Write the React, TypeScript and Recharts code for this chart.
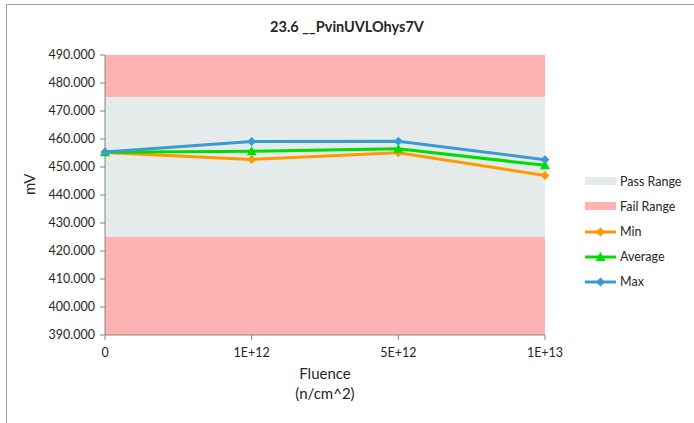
import {
  ComposedChart,
  Line,
  XAxis,
  YAxis,
  ReferenceArea,
} from "recharts";

// Categorías del eje X (fluencia) y series
const FLUENCIAS = ["0", "1E+12", "5E+12", "1E+13"];
const MIN = [455.2, 452.7, 455.1, 447.0];
const PROMEDIO = [455.3, 455.6, 456.5, 450.6];
const MAX = [455.4, 459.1, 459.2, 452.6];

const Y_TICKS = [390, 400, 410, 420, 430, 440, 450, 460, 470, 480, 490];
const PASS_RANGE: [number, number] = [425, 475];
const FAIL_BANDS: Array<[number, number]> = [
  [475, 490],
  [390, 425],
];

const PASS_FILL = "#e5ebeb";
const FAIL_FILL = "#feb2b2";
const AXIS = "#868686";
const TEXT = "#262626";
const FONT = "Lato, 'Open Sans', sans-serif";

const SERIES = [
  { key: "min", label: "Min", color: "#ff9900", values: MIN, shape: "diamond" },
  { key: "avg", label: "Average", color: "#00dd00", values: PROMEDIO, shape: "triangle" },
  { key: "max", label: "Max", color: "#3a9ad2", values: MAX, shape: "diamond" },
] as const;

const datos = FLUENCIAS.map((f, i) => ({
  fluencia: f,
  min: MIN[i],
  avg: PROMEDIO[i],
  max: MAX[i],
}));

function Marcador(props: any) {
  const { cx, cy, fill, shape } = props;
  if (cx == null || cy == null) return null;
  if (shape === "triangle") {
    return (
      <polygon
        points={`${cx},${cy - 5} ${cx + 5},${cy + 4} ${cx - 5},${cy + 4}`}
        fill={fill}
      />
    );
  }
  return (
    <polygon
      points={`${cx},${cy - 4.5} ${cx + 4.5},${cy} ${cx},${cy + 4.5} ${cx - 4.5},${cy}`}
      fill={fill}
    />
  );
}

function Leyenda() {
  const filas = [
    { label: "Pass Range", kind: "box", color: PASS_FILL },
    { label: "Fail Range", kind: "box", color: FAIL_FILL },
    ...SERIES.map((s) => ({ label: s.label, kind: s.shape, color: s.color })),
  ];
  return (
    <div
      style={{
        position: "absolute",
        left: 584,
        top: 169,
        fontFamily: FONT,
        fontSize: 12.5,
        color: TEXT,
      }}
    >
      {filas.map((f) => (
        <div
          key={f.label}
          style={{ display: "flex", alignItems: "center", height: 25 }}
        >
          <svg width={34} height={12} style={{ marginRight: 2 }}>
            {f.kind === "box" ? (
              <rect x={1} y={1} width={31} height={8} fill={f.color} />
            ) : (
              <>
                <line x1={1} x2={32} y1={6} y2={6} stroke={f.color} strokeWidth={3} />
                <Marcador cx={16.5} cy={6} fill={f.color} shape={f.kind} />
              </>
            )}
          </svg>
          <span>{f.label}</span>
        </div>
      ))}
    </div>
  );
}

function EtiquetaX(props: any) {
  const { viewBox } = props;
  const cx = viewBox.x + viewBox.width / 2;
  return (
    <text
      x={cx}
      y={viewBox.y + 44}
      textAnchor="middle"
      fill={TEXT}
      fontFamily={FONT}
      fontSize={15}
    >
      <tspan x={cx}>Fluence</tspan>
      <tspan x={cx} dy={20}>
        (n/cm^2)
      </tspan>
    </text>
  );
}

export default function App() {
  return (
    <div
      style={{
        position: "absolute",
        left: 0,
        top: 0,
        width: 694,
        height: 423,
        background: "#fff",
        overflow: "hidden",
      }}
    >
      <div
        style={{
          position: "absolute",
          left: 6,
          top: 4,
          width: 700,
          height: 430,
          borderTop: "1.5px solid #a0a0a0",
          borderLeft: "1.5px solid #a0a0a0",
        }}
      />
      <div
        style={{
          position: "absolute",
          left: 0,
          top: 18,
          width: 694,
          textAlign: "center",
          fontFamily: FONT,
          fontSize: 14.5,
          fontWeight: "bold",
          color: TEXT,
        }}
      >
        23.6 __PvinUVLOhys7V
      </div>
      <ComposedChart
        width={694}
        height={423}
        data={datos}
        margin={{ top: 55, right: 149, bottom: 0, left: 0 }}
        style={{ position: "absolute", left: 0, top: 0 }}
      >
        <ReferenceArea
          y1={PASS_RANGE[0]}
          y2={PASS_RANGE[1]}
          fill={PASS_FILL}
          fillOpacity={1}
          stroke="none"
        />
        {FAIL_BANDS.map(([a, b]) => (
          <ReferenceArea
            key={a}
            y1={a}
            y2={b}
            fill={FAIL_FILL}
            fillOpacity={1}
            stroke="none"
          />
        ))}
        <XAxis
          dataKey="fluencia"
          height={88}
          stroke={AXIS}
          tickSize={5}
          tickMargin={8}
          tick={{ fill: TEXT, fontSize: 12.5, fontFamily: FONT }}
          label={<EtiquetaX />}
        />
        <YAxis
          width={105}
          domain={[390, 490]}
          ticks={Y_TICKS}
          interval={0}
          stroke={AXIS}
          tickSize={5}
          tickMargin={5}
          tickFormatter={(v: number) => v.toFixed(3)}
          tick={{ fill: TEXT, fontSize: 12.5, fontFamily: FONT }}
          label={{
            value: "mV",
            angle: -90,
            position: "insideLeft",
            offset: 30,
            fill: TEXT,
            fontSize: 15,
            fontFamily: FONT,
          }}
        />
        {SERIES.map((s) => (
          <Line
            key={s.key}
            dataKey={s.key}
            name={s.label}
            stroke={s.color}
            strokeWidth={3}
            isAnimationActive={false}
            dot={(p: any) => (
              <Marcador key={`${s.key}-${p.index}`} {...p} fill={s.color} shape={s.shape} />
            )}
            activeDot={false}
          />
        ))}
      </ComposedChart>
      <Leyenda />
    </div>
  );
}
